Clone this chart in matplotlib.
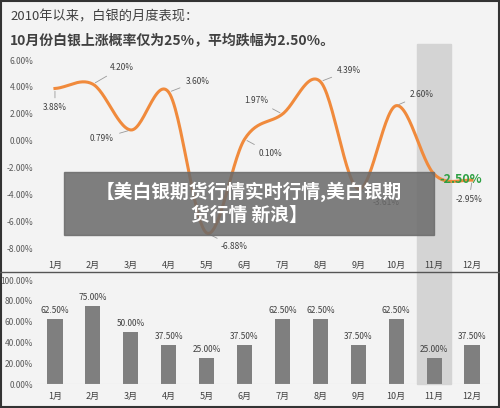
import numpy as np
import matplotlib.pyplot as plt
from matplotlib.patches import Rectangle

plt.rcParams['font.family'] = ['Noto Sans CJK SC', 'DejaVu Sans']

months = ["1月", "2月", "3月", "4月", "5月", "6月", "7月", "8月", "9月", "10月", "11月", "12月"]
avg_change = [3.88, 4.20, 0.79, 3.60, -6.88, 0.10, 1.97, 4.39, -3.61, 2.60, -2.50, -2.95]
up_prob = [62.5, 75.0, 50.0, 37.5, 25.0, 37.5, 62.5, 62.5, 37.5, 62.5, 25.0, 37.5]
y_ticks_top = [6, 4, 2, 0, -2, -4, -6, -8]
y_ticks_bot = [0, 20, 40, 60, 80, 100]

# label offsets (points) for the line chart
offsets = [(0, -14), (12, 12), (-12, -6), (12, 8), (10, -10), (10, -10),
           (-10, 10), (12, 8), (10, -10), (10, 8), (4, -4), (-2, -14)]

W, H = 500, 408
BG = "#f3f3f3"
fig = plt.figure(figsize=(W / 100, H / 100), dpi=100, facecolor=BG)

def px(l, t, r, b):
    return [l / W, 1 - b / H, (r - l) / W, (b - t) / H]

# frame + separator
fig.add_artist(Rectangle((0.002, 0.002), 0.996, 0.996, transform=fig.transFigure,
                         fill=False, ec="#333333", lw=1.5))
fig.add_artist(plt.Line2D([0, 1], [1 - 272 / H] * 2, transform=fig.transFigure,
                          color="#555555", lw=1))
# highlight band for November
fig.add_artist(Rectangle((417 / W, 1 - 384 / H), 34 / W, 340 / H,
                         transform=fig.transFigure, color="#d4d4d4", zorder=0))

fig.text(10 / W, 1 - 17 / H, "2010年以来，白银的月度表现：", fontsize=9.5, color="#404040", va="center")
fig.text(10 / W, 1 - 40 / H, "10月份白银上涨概率仅为25%，平均跌幅为2.50%。", fontsize=10,
         color="#404040", weight="bold", va="center")

x = np.arange(len(months))

# ---- top: line chart ----
ax = fig.add_axes(px(36, 60, 491, 248))
ax.patch.set_alpha(0)

# Catmull-Rom smoothing just for drawing the curve
pts = np.array(avg_change)
p = np.concatenate([[pts[0]], pts, [pts[-1]]])
xs, ys = [], []
for i in range(len(pts) - 1):
    t = np.linspace(0, 1, 30)
    p0, p1, p2, p3 = p[i], p[i + 1], p[i + 2], p[i + 3]
    yy = 0.5 * (2 * p1 + (-p0 + p2) * t + (2 * p0 - 5 * p1 + 4 * p2 - p3) * t ** 2
                + (-p0 + 3 * p1 - 3 * p2 + p3) * t ** 3)
    xs.append(i + t)
    ys.append(yy)
ax.plot(np.concatenate(xs), np.concatenate(ys), color="#f08a3c", lw=2.2)

for i, v in enumerate(avg_change):
    dx, dy = offsets[i]
    green = i == 10
    ax.annotate(f"{v:.2f}%", (i, v), xytext=(dx, dy), textcoords="offset points",
                fontsize=9 if green else 6, color="#2ea043" if green else "#404040",
                weight="bold" if green else "normal", va="center",
                ha="center" if dx == 0 or i == 11 else ("left" if dx > 0 else "right"),
                arrowprops=dict(arrowstyle="-", color="#999999", lw=0.6))

ax.set_xlim(-0.5, 11.5)
ax.set_ylim(-8, 6)
ax.set_yticks(y_ticks_top)
ax.set_yticklabels([f"{v:.2f}%" for v in y_ticks_top], fontsize=6, color="#595959")
ax.set_xticks(x)
ax.set_xticklabels(months, fontsize=6.5, color="#404040")
ax.tick_params(length=0)
ax.tick_params(axis="y", pad=2)
ax.tick_params(axis="x", pad=9)
for s in ax.spines.values():
    s.set_visible(False)

# ---- bottom: bar chart ----
bx = fig.add_axes(px(36, 280, 491, 384))
bx.patch.set_alpha(0)
bx.bar(x, up_prob, width=0.4, color="#7f7f7f")
for i, v in enumerate(up_prob):
    bx.text(i, v + 4, f"{v:.2f}%", ha="center", va="bottom", fontsize=6, color="#404040")
bx.set_xlim(-0.5, 11.5)
bx.set_ylim(0, 100)
bx.set_yticks(y_ticks_bot)
bx.set_yticklabels([f"{v:.2f}%" for v in y_ticks_bot], fontsize=6, color="#595959")
bx.set_xticks(x)
bx.set_xticklabels(months, fontsize=6.5, color="#404040")
bx.tick_params(length=0)
bx.tick_params(axis="y", pad=2)
bx.tick_params(axis="x", pad=6)
for s in bx.spines.values():
    s.set_visible(False)
bx.axhline(0, color="#d0d0d0", lw=0.8)

# overlay banner
fig.add_artist(Rectangle((64 / W, 1 - 235 / H), 370 / W, 63 / H, transform=fig.transFigure,
                         color="#6a6a6a", alpha=0.85, zorder=10))
fig.text(249 / W, 1 - 203 / H, "【美白银期货行情实时行情,美白银期\n货行情 新浪】", ha="center",
         va="center", fontsize=13.5, weight="bold", color="white", zorder=11, linespacing=1.25)

fig.savefig("out.png", dpi=100, facecolor=BG)
